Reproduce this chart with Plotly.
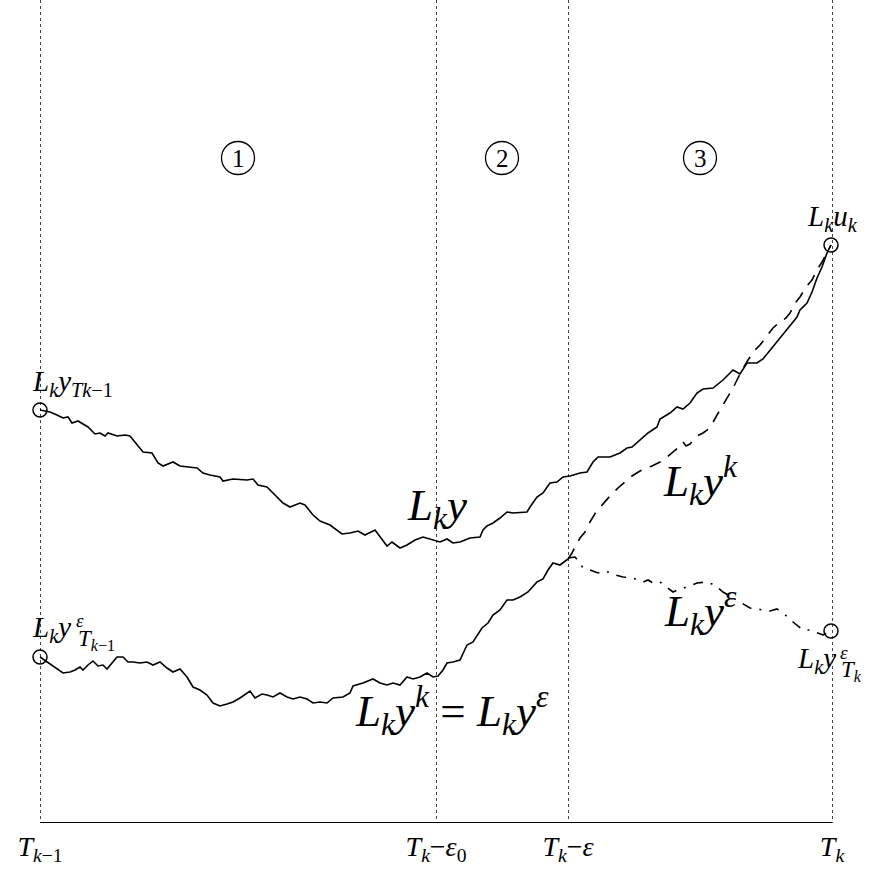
import plotly.graph_objects as go

# time axis: T_{k-1}=0 ... T_k=7.92 (arbitrary units); values in arbitrary units
tick_vals = [0.0, 3.96, 5.28, 7.92]
tick_text = ["<i>T</i><sub><i>k</i>−1</sub>",
             "<i>T</i><sub><i>k</i></sub>−<i>ε</i><sub>0</sub>",
             "<i>T</i><sub><i>k</i></sub>−<i>ε</i>",
             "<i>T</i><sub><i>k</i></sub>"]

# L_k y  (upper path)
up_t = [0.00, 0.10, 0.17, 0.23, 0.28, 0.32, 0.38, 0.48, 0.55, 0.60, 0.65, 0.68, 0.77, 0.85, 0.90,
        0.97, 1.03, 1.12, 1.18, 1.23, 1.33, 1.40, 1.50, 1.57, 1.63, 1.70, 1.80, 1.83, 1.93, 2.07,
        2.13, 2.18, 2.27, 2.37, 2.43, 2.50, 2.60, 2.65, 2.73, 2.80, 2.90, 3.02, 3.10, 3.18, 3.25,
        3.35, 3.40, 3.47, 3.52, 3.60, 3.67, 3.75, 3.83, 3.95, 4.00, 4.07, 4.13, 4.20, 4.30, 4.40,
        4.43, 4.47, 4.53, 4.60, 4.67, 4.73, 4.87, 4.90, 4.97, 5.03, 5.10, 5.17, 5.23, 5.30, 5.40,
        5.47, 5.53, 5.58, 5.70, 5.80, 5.87, 5.92, 6.00, 6.08, 6.17, 6.20, 6.30, 6.37, 6.43, 6.50,
        6.57, 6.63, 6.73, 6.83, 6.93, 7.00, 7.07, 7.17, 7.23, 7.28, 7.33, 7.40, 7.47, 7.53, 7.57,
        7.60, 7.67, 7.72, 7.77, 7.82, 7.87, 7.91]
up_v = [4.13, 4.11, 4.08, 4.05, 4.06, 4.00, 4.02, 3.96, 3.89, 3.90, 3.87, 3.90, 3.87, 3.88, 3.87,
        3.78, 3.71, 3.70, 3.60, 3.57, 3.61, 3.57, 3.56, 3.55, 3.50, 3.48, 3.46, 3.42, 3.44, 3.43,
        3.44, 3.38, 3.36, 3.26, 3.20, 3.16, 3.20, 3.18, 3.08, 3.02, 2.98, 2.89, 2.90, 2.92, 2.88,
        2.93, 2.86, 2.77, 2.81, 2.75, 2.78, 2.83, 2.86, 2.83, 2.81, 2.84, 2.80, 2.81, 2.85, 2.86,
        2.93, 2.97, 3.00, 3.05, 3.11, 3.10, 3.11, 3.16, 3.26, 3.30, 3.40, 3.41, 3.46, 3.47, 3.50,
        3.51, 3.61, 3.66, 3.66, 3.70, 3.75, 3.76, 3.83, 3.90, 3.96, 4.04, 4.10, 4.16, 4.14, 4.20,
        4.30, 4.34, 4.35, 4.43, 4.53, 4.49, 4.60, 4.60, 4.64, 4.70, 4.76, 4.85, 4.93, 5.01, 5.06,
        5.13, 5.20, 5.31, 5.45, 5.56, 5.70, 5.78]

# L_k y^k = L_k y^eps (common lower path)
low_t = [0.00, 0.10, 0.17, 0.23, 0.30, 0.35, 0.40, 0.43, 0.48, 0.53, 0.58, 0.63, 0.67, 0.73, 0.77,
         0.83, 0.88, 0.93, 1.00, 1.07, 1.13, 1.20, 1.27, 1.33, 1.40, 1.47, 1.53, 1.60, 1.67, 1.73,
         1.80, 1.87, 1.93, 2.00, 2.10, 2.15, 2.22, 2.27, 2.33, 2.40, 2.47, 2.53, 2.60, 2.67, 2.73,
         2.80, 2.87, 2.93, 3.03, 3.10, 3.13, 3.23, 3.33, 3.40, 3.47, 3.53, 3.60, 3.67, 3.73, 3.80,
         3.87, 3.93, 3.98, 4.03, 4.07, 4.13, 4.20, 4.27, 4.33, 4.42, 4.48, 4.53, 4.60, 4.67, 4.73,
         4.80, 4.88, 4.97, 5.03, 5.08, 5.13, 5.20, 5.28]
low_v = [1.66, 1.59, 1.54, 1.50, 1.51, 1.53, 1.56, 1.53, 1.58, 1.62, 1.57, 1.58, 1.54, 1.61, 1.66,
         1.66, 1.61, 1.61, 1.60, 1.61, 1.58, 1.61, 1.55, 1.51, 1.54, 1.46, 1.36, 1.33, 1.28, 1.20,
         1.17, 1.19, 1.21, 1.25, 1.32, 1.25, 1.29, 1.28, 1.26, 1.30, 1.26, 1.24, 1.26, 1.24, 1.20,
         1.21, 1.20, 1.25, 1.26, 1.30, 1.37, 1.40, 1.44, 1.40, 1.38, 1.40, 1.38, 1.46, 1.44, 1.46,
         1.50, 1.46, 1.47, 1.53, 1.60, 1.61, 1.63, 1.78, 1.81, 1.95, 2.00, 2.08, 2.13, 2.23, 2.23,
         2.26, 2.31, 2.41, 2.44, 2.53, 2.60, 2.58, 2.64]

# L_k y^k after T_k - eps (dashed)
yk_t = [5.28, 5.32, 5.36, 5.40, 5.45, 5.50, 5.56, 5.62, 5.70, 5.78, 5.85, 5.92, 6.00, 6.06, 6.12,
        6.20, 6.27, 6.35, 6.40, 6.43, 6.46, 6.50, 6.57, 6.63, 6.70, 6.77, 6.85, 6.93, 6.98, 7.02,
        7.08, 7.15, 7.20, 7.27, 7.33, 7.40, 7.46, 7.50, 7.56, 7.60, 7.66, 7.72, 7.77, 7.82, 7.87, 7.91]
yk_v = [2.64, 2.70, 2.78, 2.85, 2.91, 3.01, 3.11, 3.18, 3.27, 3.35, 3.41, 3.47, 3.52, 3.55, 3.57,
        3.61, 3.66, 3.73, 3.77, 3.81, 3.77, 3.79, 3.87, 3.90, 3.95, 4.08, 4.21, 4.35, 4.45, 4.53,
        4.63, 4.73, 4.78, 4.87, 4.95, 5.01, 5.05, 5.10, 5.21, 5.26, 5.36, 5.43, 5.53, 5.61, 5.71, 5.78]

# L_k y^eps after T_k - eps (dash-dot)
ye_t = [5.28, 5.35, 5.40, 5.43, 5.50, 5.58, 5.63, 5.68, 5.75, 5.83, 5.93, 6.03, 6.08, 6.13, 6.20,
        6.27, 6.33, 6.40, 6.47, 6.57, 6.67, 6.72, 6.77, 6.83, 6.90, 7.00, 7.10, 7.17, 7.23, 7.30,
        7.37, 7.43, 7.48, 7.53, 7.63, 7.70, 7.77, 7.83, 7.91]
ye_v = [2.65, 2.66, 2.60, 2.55, 2.53, 2.50, 2.52, 2.51, 2.48, 2.46, 2.45, 2.41, 2.43, 2.40, 2.41,
        2.36, 2.31, 2.34, 2.36, 2.40, 2.41, 2.39, 2.36, 2.31, 2.27, 2.21, 2.15, 2.14, 2.13, 2.12,
        2.14, 2.10, 2.06, 2.01, 1.93, 1.93, 1.90, 1.88, 1.92]

FONT = "'Liberation Serif', 'DejaVu Serif', serif"
fig = go.Figure()

# baseline
fig.add_trace(go.Scatter(x=[tick_vals[0], tick_vals[-1]], y=[0, 0], mode="lines",
                         line=dict(color="black", width=2), hoverinfo="skip"))
fig.add_trace(go.Scatter(x=up_t, y=up_v, mode="lines", line=dict(color="black", width=1.6)))
fig.add_trace(go.Scatter(x=low_t, y=low_v, mode="lines", line=dict(color="black", width=1.6)))
fig.add_trace(go.Scatter(x=yk_t, y=yk_v, mode="lines",
                         line=dict(color="black", width=1.6, dash="12px,9px")))
fig.add_trace(go.Scatter(x=ye_t, y=ye_v, mode="lines",
                         line=dict(color="black", width=1.6, dash="10px,8px,2px,8px")))
# circle markers at end points
fig.add_trace(go.Scatter(x=[up_t[0], low_t[0], up_t[-1], ye_t[-1]],
                         y=[up_v[0], low_v[0], up_v[-1], ye_v[-1]], mode="markers",
                         marker=dict(symbol="circle-open", size=14, color="black",
                                     line=dict(width=1.5, color="black"))))

def ann(x, y, text, size, xanchor="center", yanchor="middle"):
    fig.add_annotation(x=x, y=y, text=text, showarrow=False, xref="x", yref="y",
                       xanchor=xanchor, yanchor=yanchor,
                       font=dict(family=FONT, size=size, color="black"))

S = 29
B = 45
ann(0.32, 4.40, "<i>L</i><sub><i>k</i></sub><i>y</i><sub><i>Tk</i>−1</sub>", S)
# L_k y^eps_{T_{k-1}}
ann(-0.10, 1.94, "<i>L</i><sub><i>k</i></sub><i>y</i>", S, xanchor="left")
ann(0.34, 2.03, "<i>ε</i>", 19, xanchor="left")
ann(0.36, 1.83, "<i>T</i><sub><i>k</i>−1</sub>", 23, xanchor="left")
ann(7.92, 6.05, "<i>L</i><sub><i>k</i></sub><i>u</i><sub><i>k</i></sub>", S)
ann(3.97, 3.15, "<i>L</i><sub><i>k</i></sub><i>y</i>", B)
ann(6.60, 3.43, "<i>L</i><sub><i>k</i></sub><i>y</i><sup><i>k</i></sup>", B)
ann(6.60, 2.13, "<i>L</i><sub><i>k</i></sub><i>y</i><sup><i>ε</i></sup>", B)
ann(4.12, 1.13, "<i>L</i><sub><i>k</i></sub><i>y</i><sup><i>k</i></sup> = <i>L</i><sub><i>k</i></sub><i>y</i><sup><i>ε</i></sup>", B)
# L_k y^eps_{T_k}
ann(7.55, 1.63, "<i>L</i><sub><i>k</i></sub><i>y</i>", S, xanchor="left")
ann(7.98, 1.71, "<i>ε</i>", 19, xanchor="left")
ann(7.99, 1.52, "<i>T</i><sub><i>k</i></sub>", 23, xanchor="left")

# circled region numbers
regions = ["1", "2", "3"]
region_x = [1.98, 4.62, 6.60]
for lab, cx in zip(regions, region_x):
    fig.add_shape(type="circle", xref="x", yref="y", x0=cx - 0.165, x1=cx + 0.165,
                  y0=6.65 - 0.165, y1=6.65 + 0.165, line=dict(color="black", width=1.3))
    ann(cx, 6.65, lab, 25)

fig.update_layout(width=869, height=870, margin=dict(l=0, r=0, t=0, b=47),
                  paper_bgcolor="white", plot_bgcolor="white", showlegend=False,
                  font=dict(family=FONT, color="black"))
fig.update_xaxes(range=[-0.40, 8.29], tickvals=tick_vals, ticktext=tick_text, ticks="",
                 showgrid=True, gridcolor="#444444", griddash="dot", gridwidth=1,
                 zeroline=False, showline=False,
                 tickfont=dict(family=FONT, size=28, color="black"), ticklabelstandoff=4)
fig.update_yaxes(range=[0, 8.23], showgrid=False, zeroline=False, showticklabels=False,
                 showline=False)

fig.write_html("out.html", config={"displayModeBar": False},
               post_script="document.body.style.margin='0';document.body.style.padding='0';")
